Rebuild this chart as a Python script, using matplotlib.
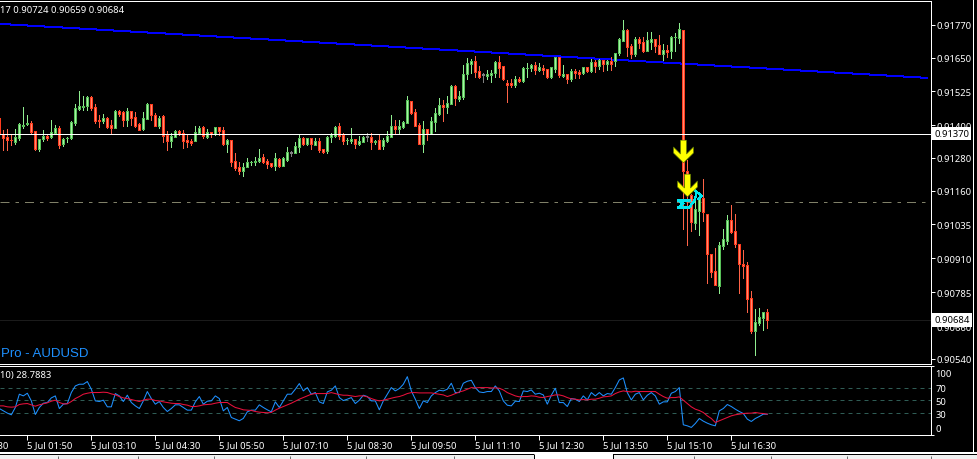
import numpy as np
import matplotlib
matplotlib.use("Agg")
import matplotlib.pyplot as plt
from matplotlib.path import Path
from matplotlib.patches import Rectangle

W, H = 977, 460

# 5 minute candles, in points above 0.90000
opens = [1428,1367,1359,1347,1338,1354,1399,1406,1410,1379,1313,1351,1362,1358,1373,1391,1332,1352,1354,1410,1461,1469,1473,1504,1469,1419,1417,1428,1402,1391,1454,1449,1421,1454,1432,1406,1388,1424,1480,1439,1399,1435,1365,1343,1359,1380,1373,1347,1343,1343,1373,1395,1358,1377,1369,1394,1384,1332,1347,1270,1248,1233,1248,1264,1267,1270,1285,1270,1262,1251,1277,1251,1273,1299,1299,1321,1354,1332,1354,1329,1343,1313,1307,
         1356,1362,1399,1365,1345,1343,1351,1332,1340,1358,1358,1340,1347,1325,1343,1358,1399,1388,1395,1410,1491,1450,1402,1332,1388,1369,1413,1443,1476,1469,1480,1546,1498,1505,1590,1627,1638,1601,1586,1583,1586,1594,1634,1619,1557,1557,1550,1572,1564,1610,1612,1623,1605,1612,1608,1579,1608,1653,1583,1590,1572,1601,1597,1594,1616,1601,1634,1619,1642,1627,1638,1638,1667,1711,1752,
         1692,1664,1719,1708,1675,1708,1719,1697,1664,1678,1675,1724,1722,1752,1231,1142,1042,1086,1134,1075,928,865,807,957,975,1053,1012,964,891,887,766,641,674,692,714]
highs = [1428,1384,1388,1363,1388,1410,1469,1439,1416,1379,1351,1384,1369,1421,1402,1399,1354,1358,1417,1480,1527,1510,1509,1507,1480,1439,1443,1432,1421,1458,1458,1453,1465,1454,1449,1410,1450,1483,1480,1446,1435,1439,1380,1373,1384,1384,1384,1369,1351,1399,1399,1399,1388,1377,1395,1395,1395,1351,1347,1299,1266,1262,1281,1270,1285,1314,1296,1277,1262,1299,1281,1285,1321,1307,1340,1365,1358,1354,1354,1354,1354,1314,1362,
         1373,1399,1410,1373,1354,1391,1351,1362,1362,1373,1373,1347,1365,1354,1380,1439,1421,1421,1417,1509,1491,1461,1410,1417,1388,1432,1465,1502,1494,1509,1550,1550,1527,1623,1649,1645,1656,1619,1594,1605,1605,1638,1656,1619,1568,1572,1583,1579,1616,1630,1627,1634,1630,1623,1608,1616,1653,1653,1623,1590,1608,1608,1605,1616,1616,1645,1642,1645,1642,1642,1653,1667,1722,1789,1756,
         1700,1726,1726,1726,1745,1745,1719,1734,1700,1697,1730,1741,1778,1752,1271,1148,1148,1155,1204,1075,928,950,972,1020,1071,1108,1075,964,942,898,791,725,729,714,722]
lows = [1363,1308,1311,1326,1332,1348,1391,1402,1372,1310,1307,1341,1347,1354,1369,1318,1325,1340,1351,1402,1458,1458,1458,1458,1410,1395,1410,1391,1369,1390,1435,1399,1399,1402,1395,1384,1384,1424,1421,1399,1391,1340,1310,1321,1358,1365,1318,1321,1329,1343,1369,1354,1354,1358,1365,1365,1329,1303,1251,1237,1222,1215,1248,1255,1255,1266,1262,1244,1248,1237,1248,1251,1270,1288,1299,1303,1329,1329,1314,1329,1303,1299,1299,
        1340,1358,1351,1331,1332,1336,1318,1329,1340,1343,1314,1332,1314,1314,1340,1358,1369,1373,1391,1410,1443,1399,1332,1303,1347,1369,1380,1439,1417,1446,1480,1476,1491,1498,1572,1594,1579,1575,1560,1572,1560,1579,1579,1568,1487,1542,1542,1560,1560,1579,1601,1590,1601,1590,1575,1575,1597,1579,1579,1557,1564,1575,1575,1590,1597,1597,1597,1608,1601,1605,1605,1619,1660,1711,1656,
        1649,1656,1686,1671,1675,1682,1671,1664,1642,1653,1649,1675,1704,1020,958,1010,1020,995,1047,821,842,811,784,946,964,1005,953,784,839,714,637,556,666,648,655]
closes = [1369,1354,1345,1345,1359,1406,1401,1410,1375,1314,1351,1362,1354,1375,1391,1329,1351,1354,1413,1465,1471,1473,1505,1465,1417,1417,1427,1395,1391,1454,1443,1421,1454,1428,1399,1384,1428,1480,1439,1399,1428,1362,1343,1362,1380,1369,1343,1340,1336,1377,1391,1362,1377,1369,1395,1379,1332,1347,1266,1244,1233,1248,1266,1266,1270,1281,1266,1259,1251,1281,1251,1281,1303,1299,1325,1354,1332,1354,1332,1343,1310,1303,1358,
          1367,1395,1362,1343,1347,1351,1332,1343,1358,1358,1340,1343,1314,1347,1362,1399,1388,1399,1413,1494,1446,1399,1332,1388,1369,1417,1446,1476,1469,1483,1546,1502,1509,1590,1630,1638,1597,1579,1586,1590,1594,1634,1612,1572,1550,1550,1572,1564,1612,1612,1623,1605,1616,1605,1579,1616,1653,1586,1590,1572,1601,1594,1590,1616,1601,1634,1619,1642,1627,1638,1627,1667,1719,1752,1689,
          1664,1719,1704,1675,1715,1719,1693,1664,1678,1671,1726,1726,1756,1233,1152,1044,1093,1134,1081,925,861,811,961,983,1053,1009,964,891,883,762,641,677,696,711,684]

rsi_values = [37.6,34.0,30.5,27.9,39.2,59.7,57.1,61.2,49.4,28.4,39.2,45.8,46.9,54.0,57.1,37.6,44.3,45.3,62.3,72.5,75.1,75.1,79.2,67.4,49.4,48.4,50.5,40.2,40.2,60.7,57.1,48.4,58.2,46.9,41.7,37.6,49.4,63.8,53.0,44.3,48.4,39.2,33.0,37.6,43.3,43.3,39.2,35.1,35.1,47.9,56.1,44.3,48.9,49.4,57.1,53.0,34.0,39.2,23.8,21.2,18.7,22.3,32.5,35.1,35.1,43.3,39.2,35.6,32.5,47.9,39.2,49.4,59.7,59.7,67.4,76.1,64.8,69.9,59.7,62.3,47.9,45.3,63.3,
              65.8,72.5,54.5,49.9,52.0,54.5,45.3,50.4,58.1,56.1,49.4,49.4,35.6,49.4,59.7,69.9,64.8,68.4,75.0,86.8,64.8,52.0,37.6,49.4,46.8,57.1,62.2,65.8,64.8,67.4,76.6,62.2,62.2,76.6,79.7,81.2,69.9,63.2,62.2,63.8,63.8,72.5,64.8,49.4,42.7,41.7,48.9,48.4,64.8,63.8,66.3,59.7,61.2,58.6,44.3,58.1,68.9,46.8,46.8,40.7,53.0,52.0,48.4,57.1,50.9,62.2,57.1,62.2,57.1,60.7,59.7,69.9,81.7,84.8,62.2,50.9,59.7,62.2,50.9,58.1,
              62.2,57.1,44.3,47.9,47.9,61.2,63.8,69.9,12.5,10.9,8.4,14.5,22.2,18.1,15.0,12.5,10.9,34.0,37.6,43.8,40.7,36.6,33.0,29.9,21.2,17.6,22.2,25.3,28.9,28.8]
rsi_signal = [41.7,41.7,40.2,39.7,40.2,43.8,44.8,45.3,43.3,41.2,43.3,44.8,46.4,48.9,50.5,46.9,44.8,44.8,48.4,53.0,56.1,59.7,61.2,62.3,62.3,62.3,62.8,62.3,60.2,58.7,56.1,54.0,53.0,51.5,50.0,48.4,50.5,52.0,52.0,50.0,49.4,47.9,46.9,45.8,45.3,45.3,43.8,42.8,40.7,40.7,41.7,43.3,43.8,44.3,45.8,46.9,46.9,46.9,42.8,39.2,37.6,35.6,35.1,34.6,33.0,32.0,31.5,31.0,31.5,35.1,38.1,40.7,43.3,45.8,48.9,52.0,54.6,57.1,59.7,60.7,60.7,60.7,60.7,
              62.2,60.7,59.1,58.1,58.1,57.1,56.1,57.1,57.1,55.6,53.0,50.9,49.4,50.4,52.0,53.5,55.0,56.1,58.1,60.7,62.2,62.2,61.7,61.7,61.7,61.7,60.7,59.7,58.6,56.1,58.1,60.7,63.2,64.8,67.4,69.9,69.4,69.9,69.9,69.9,69.4,69.4,68.9,66.3,62.2,59.7,57.1,55.6,56.1,56.1,57.1,56.6,55.0,54.5,56.1,57.1,58.6,58.6,57.1,54.5,52.5,52.0,50.9,51.4,50.9,52.0,52.0,53.5,55.6,56.1,57.1,60.7,63.2,64.8,63.8,63.2,64.3,63.8,63.8,63.8,
              63.8,63.8,59.7,56.1,53.5,54.5,54.5,55.6,50.4,45.3,40.2,36.6,34.5,31.5,26.3,22.2,16.1,18.6,21.2,23.8,26.3,27.9,28.9,29.9,30.4,30.4,31.5,30.4,29.9,28.9]

price_ticks = [0.91770,0.91650,0.91525,0.91400,0.91280,0.91160,0.91035,0.90910,0.90785,0.90660,0.90540]
rsi_levels = [30,50,70]
rsi_tick_labels = ["100","70","50","30","0"]
rsi_label_pos = [93.5,70,50.5,30,8.9]
time_bars = [-9,7,23,39,55,71,87,103,119,135,151,167,183]
time_labels = ["5 Jul 00:30","5 Jul 01:50","5 Jul 03:10","5 Jul 04:30","5 Jul 05:50","5 Jul 07:10",
               "5 Jul 08:30","5 Jul 09:50","5 Jul 11:10","5 Jul 12:30","5 Jul 13:50","5 Jul 15:10","5 Jul 16:30"]

trend_bars = [0,232]
trend_prices = [0.91774,0.91575]
bid_price = 0.90684
hline_price = 0.91370
dash_price = 0.91118
arrow_bars = [171,172]
arrow_prices = [0.91306,0.91181]
cyan_bars = [172.7,169.7,171,169.7,172.5,173.9,174.3]
cyan_prices = [0.91123,0.91123,0.91111,0.91097,0.91097,0.91127,0.91151]
cyan_head_bars = [173.9,175.6,174.7]
cyan_head_prices = [0.91160,0.91141,0.91129]

plt.rcParams['font.family'] = ['Noto Sans', 'DejaVu Sans']
FS = 6.8

def px_axes(fig, left, top, right, bottom):
    return fig.add_axes([left/W, 1-bottom/H, (right-left)/W, (bottom-top)/H])

fig = plt.figure(figsize=(W/100, H/100), dpi=100, facecolor="black")

# window chrome below and right of the chart
frame = fig.add_axes([0,0,1,1], zorder=0)
frame.set_xlim(0,W); frame.set_ylim(H,0); frame.axis("off")
frame.add_patch(Rectangle((0,453),W,7,color="white",lw=0))
frame.add_patch(Rectangle((0,455),534,1,color="black",lw=0))
frame.add_patch(Rectangle((613,455),W-613,1,color="black",lw=0))
frame.add_patch(Rectangle((0,456),534,4,color="#f0f0f0",lw=0))
frame.add_patch(Rectangle((613,456),W-613,4,color="#f0f0f0",lw=0))
frame.vlines([534,613],455,460,color="black",lw=0.72)
frame.vlines([58,138,214,290,366,454,694,771,847,931],457,460,color="#707070",lw=0.72)
frame.add_patch(Rectangle((973,0),1,455,color="white",lw=0))

ax = px_axes(fig, 0, 1.5, 930.5, 364.5)
rsi_ax = px_axes(fig, 0, 366.5, 930.5, 435.5)

o = 0.9 + np.array(opens)/1e5
h = 0.9 + np.array(highs)/1e5
l = 0.9 + np.array(lows)/1e5
c = 0.9 + np.array(closes)/1e5
bars = np.arange(len(opens))

for a in (ax, rsi_ax):
    a.set_facecolor("black")
    a.set_xlim(0.1675, 232.8)
    a.spines["left"].set_visible(False)
    for s in ("top","right","bottom"):
        a.spines[s].set_color("white")
        a.spines[s].set_linewidth(0.72)

ax.set_ylim(0.90523, 0.91860)

edge = np.where(c > o, "#58c058", np.where(c < o, "#ff3c1e", "#808080"))
face = np.where(c > o, "#a4f4a4", np.where(c < o, "#ff8a70", "#808080"))
wick = np.where(c > o, "#90ee90", np.where(c < o, "#ff6347", "#808080"))
ax.vlines(bars, l, h, colors=wick, lw=0.72, antialiased=False, zorder=3)
ax.bar(bars, np.maximum(np.abs(c-o), 0.00002), bottom=np.minimum(o,c), width=0.5,
       color=face, edgecolor=edge, linewidth=0.72, antialiased=False, zorder=4)

ax.plot(trend_bars, trend_prices, color="#0000ff", lw=0.72, antialiased=False, zorder=2)
ax.axhline(hline_price, color="white", lw=0.72, antialiased=False, zorder=5)
ax.axhline(dash_price, color="#808068", lw=0.72, dashes=(9,6,3.5,6), zorder=2)
ax.axhline(bid_price, color="#1c1c1c", lw=0.7, zorder=1)

ax.plot(cyan_bars, cyan_prices, color="#00e5ee", lw=1.0, antialiased=False, zorder=6)
ax.plot(cyan_head_bars, cyan_head_prices, color="#00e5ee", lw=1.0, antialiased=False, zorder=6)

arrow = Path(np.array([(-3,11.3),(3,11.3),(3,-2.5),(10,4.5),(10,-1.5),(0,-11.3),
                       (-10,-1.5),(-10,4.5),(-3,-2.5),(-3,11.3)])/11.3, closed=True)
ax.plot(arrow_bars, arrow_prices, ls="none", marker=arrow, ms=16.3, mfc="#ffff00",
        mec="#5a7a00", mew=0.4, zorder=7)

ax.set_xticks([])
ax.yaxis.tick_right()
ax.set_yticks(price_ticks)
ax.set_yticklabels(["%.5f" % p for p in price_ticks])
ax.tick_params(axis="y", colors="white", length=3, width=0.72, pad=1.5, labelsize=FS)

for price in (hline_price, bid_price):
    ax.annotate("%.5f" % price, xy=(1, price), xycoords=("axes fraction","data"),
                xytext=(2.6,0), textcoords="offset points", va="center", ha="left",
                fontsize=FS, color="black", annotation_clip=False, zorder=9,
                bbox=dict(boxstyle="square,pad=0.25", fc="white", ec="white", lw=0))

ax.text(0.0, 0.9765, "17 0.90724 0.90659 0.90684", transform=ax.transAxes, color="white",
        fontsize=FS, va="center", ha="left")
ax.text(0.001, 0.0295, "Pro - AUDUSD", transform=ax.transAxes, color="#1e90ff",
        fontsize=9.5, va="center", ha="left", family="Liberation Sans")

# RSI panel
rsi_ax.set_ylim(-2.5, 104.0)
for lvl in rsi_levels:
    rsi_ax.axhline(lvl, color="#2f5c55", lw=0.72, dashes=(4,4))
rsi_ax.plot(bars, rsi_values, color="#1e90ff", lw=0.75)
rsi_ax.plot(bars, rsi_signal, color="#e8103c", lw=0.75)
rsi_ax.text(0.0, 0.875, "10) 28.7883", transform=rsi_ax.transAxes, color="white",
            fontsize=FS, va="center", ha="left")

rsi_ax.yaxis.tick_right()
rsi_ax.set_yticks(rsi_label_pos)
rsi_ax.set_yticklabels(rsi_tick_labels)
rsi_ax.set_yticks([-2.5,104.0], minor=True)
rsi_ax.tick_params(axis="y", which="major", colors="white", length=0, pad=3.5, labelsize=FS)
rsi_ax.tick_params(axis="y", which="minor", colors="white", length=2, width=0.72)

rsi_ax.set_xticks(time_bars[1:])
rsi_ax.set_xticklabels([])
rsi_ax.tick_params(axis="x", colors="white", length=3.5, width=0.72)
for b, lab in zip(time_bars, time_labels):
    rsi_ax.annotate(lab, xy=(b, 0), xycoords=("data","axes fraction"), xytext=(-0.5,-4.3),
                    textcoords="offset points", va="top", ha="left", color="white",
                    fontsize=FS, annotation_clip=False)

fig.savefig("out.png", dpi=100, facecolor="black")
